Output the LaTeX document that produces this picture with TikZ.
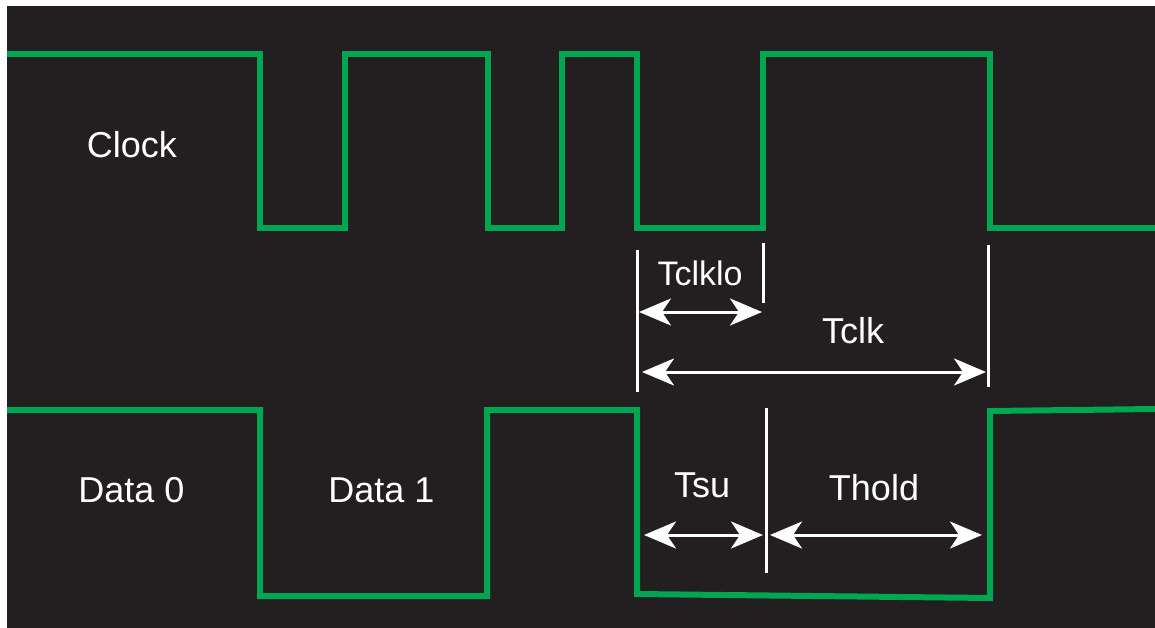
\documentclass[tikz,border=0pt]{standalone}
\usepackage{fontspec}
\setmainfont{Liberation Sans}
\usetikzlibrary{arrows.meta}
\definecolor{bg}{HTML}{231F20}
\definecolor{sig}{HTML}{00A651}
\begin{document}
\begin{tikzpicture}[x=1pt,y=-1pt,
  wave/.style={draw=sig,line width=6pt,line join=miter,line cap=butt},
  tick/.style={draw=white,line width=3pt},
  dimarrow/.style={draw=white,line width=3pt,{Stealth[length=32pt,width=27pt,inset=9pt]}-{Stealth[length=32pt,width=27pt,inset=9pt]}},
  lbl/.style={text=white,font=\fontsize{36}{40}\selectfont,anchor=base,inner sep=0pt}]
\useasboundingbox (0,0) rectangle (1155,628);
\fill[white] (0,0) rectangle (1155,628);
\fill[bg] (7,6) rectangle (1155,628);
% clock
\draw[wave] (7,54) -- (260,54) -- (260,228) -- (345,228) -- (345,54) -- (488,54) -- (488,228)
  -- (562,228) -- (562,54) -- (637,54) -- (637,228) -- (763,228) -- (763,54) -- (990,54)
  -- (990,228) -- (1155,228);
% data
\draw[wave] (7,410) -- (260,410) -- (260,596) -- (487,596) -- (487,410) -- (637,410)
  -- (637,594) -- (990,598) -- (990,411) -- (1155,409);
% ticks
\coordinate (t1a) at (637,250); \coordinate (t1b) at (637,392);
\coordinate (t2a) at (763,243); \coordinate (t2b) at (763,303);
\coordinate (t3a) at (988,245); \coordinate (t3b) at (988,387);
\coordinate (t4a) at (766,408); \coordinate (t4b) at (766,573);
\draw[tick] (t1a) -- (t1b);
\draw[tick] (t2a) -- (t2b);
\draw[tick] (t3a) -- (t3b);
\draw[tick] (t4a) -- (t4b);
% arrows
\coordinate (a1) at (639,312); \coordinate (a2) at (762,312);
\coordinate (b1) at (642,372); \coordinate (b2) at (986,372);
\coordinate (c1) at (644,535); \coordinate (c2) at (763,535);
\coordinate (d1) at (770,535); \coordinate (d2) at (982,535);
\draw[dimarrow] (a1) -- (a2);
\draw[dimarrow] (b1) -- (b2);
\draw[dimarrow] (c1) -- (c2);
\draw[dimarrow] (d1) -- (d2);
% labels
\node[lbl] (clock) at (132,158) {Clock};
\node[lbl] (d0) at (131.5,502) {Data 0};
\node[lbl] (d1) at (381.5,502) {Data 1};
\node[lbl,font=\fontsize{34}{40}\selectfont] (tclklo) at (700,285) {Tclklo};
\node[lbl] (tclk) at (853,343) {Tclk};
\node[lbl] (tsu) at (702,497) {Tsu};
\node[lbl] (thold) at (874,500) {Thold};
\end{tikzpicture}
\end{document}
